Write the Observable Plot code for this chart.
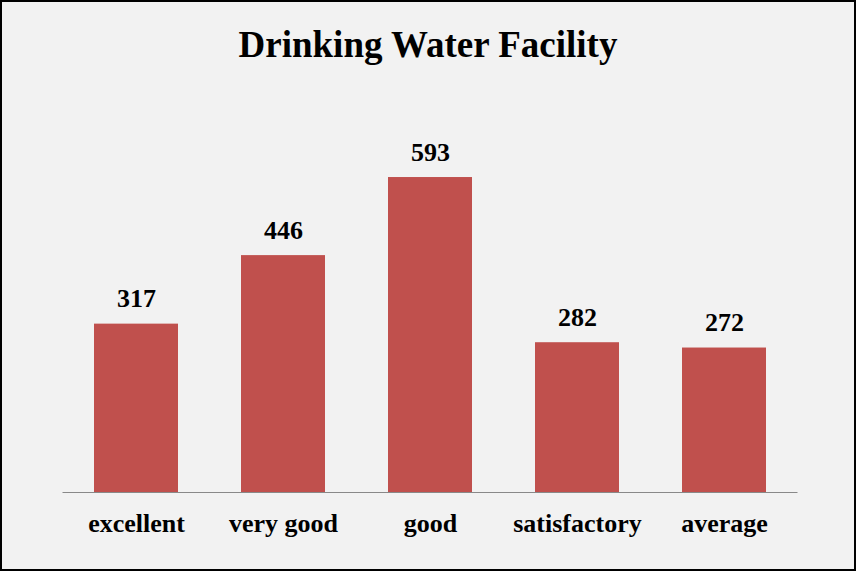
<!DOCTYPE html>
<html>
<head>
<meta charset="utf-8">
<script src="https://cdn.jsdelivr.net/npm/d3@7"></script>
<script src="https://cdn.jsdelivr.net/npm/@observablehq/plot@0.6"></script>
<style>
  html, body { margin: 0; padding: 0; background: #fff; }
  #wrap {
    position: relative; width: 856px; height: 571px; box-sizing: border-box;
    border: 2px solid #000; background: #f2f2f2; overflow: hidden;
  }
  #title {
    position: absolute; left: 0; width: 852px; top: 23.5px; text-align: center;
    font-family: "Liberation Serif", "Times New Roman", serif; font-weight: bold;
    font-size: 37px; line-height: 1; color: #000;
  }
  #chart { position: absolute; left: 0; top: 0; }
  #chart svg { display: block; background: transparent; }
  #chart svg text { font-family: "Liberation Serif", "Times New Roman", serif !important; }
</style>
</head>
<body>
<div id="wrap">
  <div id="chart"></div>
  <div id="title">Drinking Water Facility</div>
</div>
<script>
const categories = ["excellent", "very good", "good", "satisfactory", "average"];
const values = [317, 446, 593, 282, 272];

const data = categories.map((c, i) => ({category: c, value: values[i]}));
const font = "'Liberation Serif', 'Times New Roman', serif";

const chart = Plot.plot({
  width: 852,
  height: 567,
  marginLeft: 60.5,
  marginRight: 56.5,
  marginBottom: 77,
  marginTop: 118.2,
  style: {background: "transparent", fontFamily: font, overflow: "visible"},
  x: {domain: categories, paddingInner: 0.4286, paddingOuter: 0.2143, label: null},
  y: {domain: [0, 700], axis: null},
  marks: [
    Plot.barY(data, {x: "category", y: "value", fill: "#c0504d"}),
    Plot.ruleY([0], {stroke: "#898989", strokeWidth: 1.2}),
    Plot.text(data, {x: "category", y: "value", text: d => String(d.value), dy: -17,
      lineAnchor: "bottom", fontSize: 26, fontWeight: "bold", fill: "#000", fontFamily: font}),
    Plot.axisX({tickSize: 0, tickPadding: 21, fontSize: 26, fontWeight: "bold", fill: "#000",
      fontFamily: font, label: null})
  ]
});
document.getElementById("chart").appendChild(chart);
</script>
</body>
</html>
